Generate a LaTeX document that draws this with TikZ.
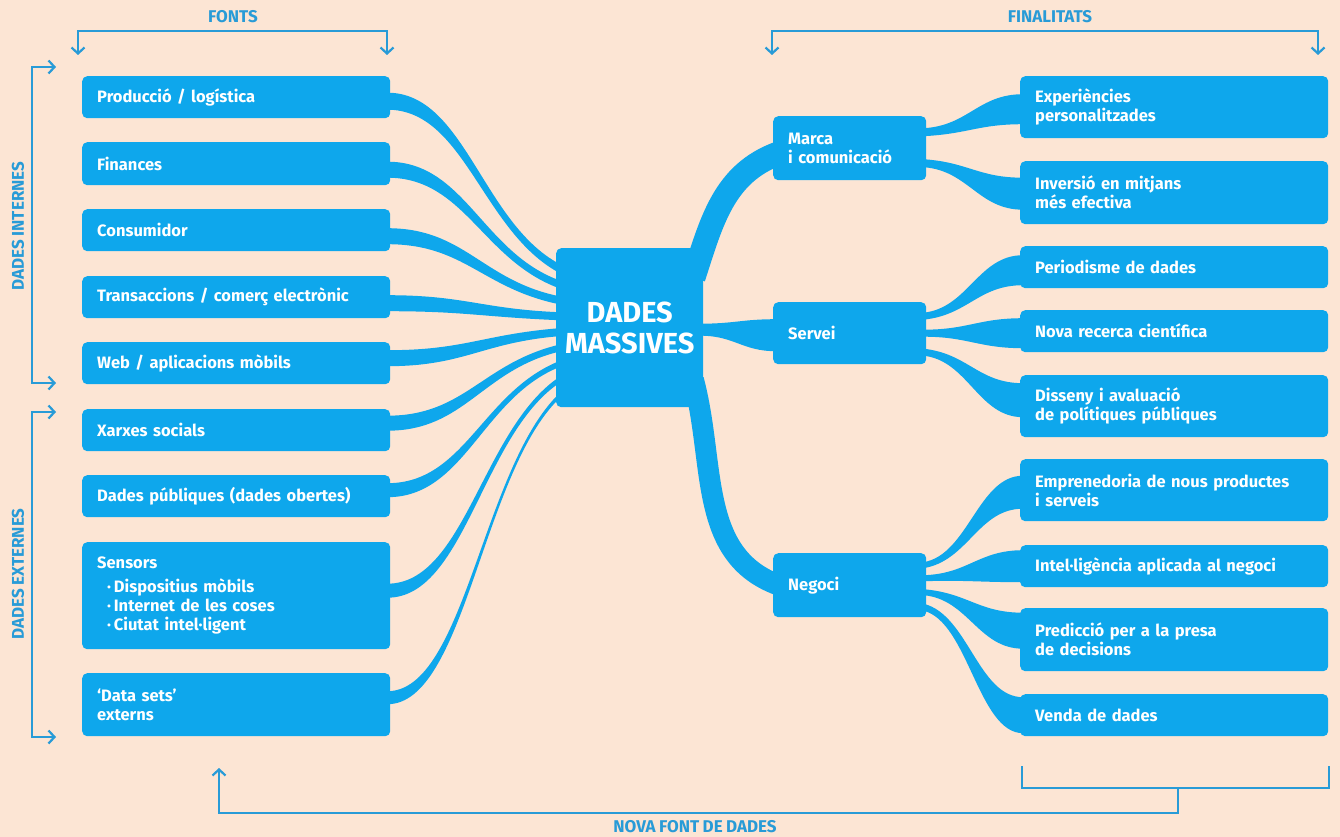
\documentclass[tikz,border=0pt]{standalone}
\usepackage{fontspec}
\setmainfont{Fira Sans}[WordSpace=0.85]
\usetikzlibrary{calc,arrows.meta}

\definecolor{paper}{RGB}{252,229,212}
\definecolor{boxblue}{RGB}{14,167,236}
\definecolor{lineblue}{RGB}{40,155,215}

\pgfdeclarelayer{paperlayer}
\pgfdeclarelayer{linklayer}
\pgfsetlayers{paperlayer,linklayer,main}

\tikzset{
  box/.style={fill=boxblue, rounded corners=5pt, text=white, anchor=north west,
    font=\fontsize{16.5}{19}\selectfont\bfseries, align=left,
    inner xsep=15pt, inner ysep=4pt},
  lbox/.style={box, text width=278pt},
  mbox/.style={box, text width=123pt},
  tag/.style={text=lineblue, font=\fontsize{17}{17}\selectfont\bfseries, inner sep=0pt},
  bracket/.style={draw=lineblue, line width=2.2pt},
}

% tapered band: start point, start width, end point, end width, start slope, end slope
\newcommand\ribbon[6]{%
  \fill[boxblue] let \p1=#1, \p2=#3 in
    (\x1,{\y1+0.5*#2pt})
      .. controls ({\x1+0.45*(\x2-\x1)},{\y1+0.5*#2pt+#5*(\y2-\y1)})
      and ({\x2-0.45*(\x2-\x1)},{\y2+0.5*#4pt-#6*(\y2-\y1)})
      .. (\x2,{\y2+0.5*#4pt})
    -- (\x2,{\y2-0.5*#4pt})
      .. controls ({\x2-0.45*(\x2-\x1)},{\y2-0.5*#4pt-#6*(\y2-\y1)})
      and ({\x1+0.45*(\x2-\x1)},{\y1-0.5*#2pt+#5*(\y2-\y1)})
      .. (\x1,{\y1-0.5*#2pt})
    -- cycle;}

\begin{document}
\begin{tikzpicture}[x=1pt, y=-1pt, >={Straight Barb[length=6pt,width=13pt]}]
  \useasboundingbox (0,0) rectangle (1340,837);
  \begin{pgfonlayer}{paperlayer}
    \fill[paper] (0,0) rectangle (1340,837);
  \end{pgfonlayer}

  % sources
  \node[lbox, minimum height=42pt] (prod) at (82,76) {Producció / logística};
  \node[lbox, minimum height=43pt] (fin) at (82,142) {Finances};
  \node[lbox, minimum height=42pt] (cons) at (82,209) {Consumidor};
  \node[lbox, minimum height=42pt] (trans) at (82,276) {Transaccions / comerç electrònic};
  \node[lbox, minimum height=42pt] (web) at (82,342) {Web / aplicacions mòbils};
  \node[lbox, minimum height=42pt] (xarx) at (82,409) {Xarxes socials};
  \node[lbox, minimum height=42pt] (publ) at (82,475) {Dades públiques (dades obertes)};
  \node[lbox, minimum height=107pt] (sens) at (82,542) {Sensors\\[5pt]
    \hspace*{10pt}·\,Dispositius mòbils\\
    \hspace*{10pt}·\,Internet de les coses\\
    \hspace*{10pt}·\,Ciutat intel·ligent};
  \node[lbox, minimum height=63pt] (dsets) at (82,673) {‘Data sets’\\externs};

  % centre
  \node[box, minimum width=147pt, minimum height=159pt, align=center, text width=,
    inner xsep=0pt, font=\fontsize{29}{31}\selectfont\bfseries] (dm) at (556,248) {DADES\\MASSIVES};

  % uses
  \node[mbox, minimum height=64pt] (marca) at (773,116) {Marca\\i comunicació};
  \node[mbox, minimum height=62pt] (servei) at (773,302) {Servei};
  \node[mbox, minimum height=64pt] (negoci) at (773,553) {Negoci};

  % aims
  \node[lbox, minimum height=62pt] (exp) at (1020,76) {Experiències\\personalitzades};
  \node[lbox, minimum height=63pt] (inv) at (1020,161) {Inversió en mitjans\\més efectiva};
  \node[lbox, minimum height=42pt] (peri) at (1020,246) {Periodisme de dades};
  \node[lbox, minimum height=42pt] (nova) at (1020,310) {Nova recerca científica};
  \node[lbox, minimum height=62pt] (diss) at (1020,375) {Disseny i avaluació\\de polítiques públiques};
  \node[lbox, minimum height=62pt] (empr) at (1020,459) {Emprenedoria de nous productes\\i serveis};
  \node[lbox, minimum height=42pt] (intel) at (1020,545) {Intel·ligència aplicada al negoci};
  \node[lbox, minimum height=63pt] (pred) at (1020,608) {Predicció per a la presa\\de decisions};
  \node[lbox, minimum height=42pt] (venda) at (1020,694) {Venda de dades};

  % labels
  \node[tag] (fontslab) at (233,17) {FONTS};
  \node[tag] (finlab) at (1050,17) {FINALITATS};
  \node[tag, rotate=90] (intlab) at (18,226) {DADES INTERNES};
  \node[tag, rotate=90] (extlab) at (18,574) {DADES EXTERNES};
  \node[tag] (novalab) at (695,827) {NOVA FONT DE DADES};

  % bands
  \begin{pgfonlayer}{linklayer}
    \ribbon{($(prod.east)+(-3,4)$)}{17}{($(dm.west)+(3,-59.5)$)}{9}{0}{0.25}
    \ribbon{($(fin.east)+(-3,6)$)}{16}{($(dm.west)+(3,-43.5)$)}{8}{0}{0.25}
    \ribbon{($(cons.east)+(-3,6)$)}{16}{($(dm.west)+(3,-27.5)$)}{8}{0}{0.25}
    \ribbon{($(trans.east)+(-3,6)$)}{16}{($(dm.west)+(3,-11.5)$)}{8}{0}{0.25}
    \ribbon{($(web.east)+(-3,-5)$)}{16}{($(dm.west)+(3,4.5)$)}{8}{0}{0.25}
    \ribbon{($(xarx.east)+(-3,-7)$)}{15}{($(dm.west)+(3,20.5)$)}{7}{0}{0.25}
    \ribbon{($(publ.east)+(-3,-6)$)}{14}{($(dm.west)+(3,36.5)$)}{6}{0}{0.25}
    \ribbon{($(sens.east)+(-3,-5)$)}{14}{($(dm.west)+(3,52.5)$)}{6}{0}{0.25}
    \ribbon{($(dsets.east)+(-3,-7)$)}{13}{($(dm.west)+(3,68.5)$)}{5}{0}{0.25}

    \draw[boxblue, line width=24pt] ($(dm.east)+(-10,-50)$) to[out=72,in=200] ($(marca.west)+(6,5)$);
    \ribbon{($(dm.east)+(-3,2)$)}{12}{($(servei.west)+(3,2)$)}{32}{0}{0}
    \draw[boxblue, line width=21pt] ($(dm.east)+(-10,52)$) to[out=-75,in=160] ($(negoci.west)+(6,0)$);

    \ribbon{($(marca.east)+(-3,-16)$)}{8}{($(exp.west)+(3,2)$)}{30}{0.1}{0}
    \ribbon{($(marca.east)+(-3,15)$)}{8}{($(inv.west)+(3,1)$)}{32}{0.1}{0}
    \ribbon{($(servei.east)+(-3,-17)$)}{7}{($(peri.west)+(3,3)$)}{30}{0.1}{0}
    \ribbon{($(servei.east)+(-3,0)$)}{7}{($(nova.west)+(3,2)$)}{30}{0.1}{0}
    \ribbon{($(servei.east)+(-3,19)$)}{7}{($(diss.west)+(3,-6)$)}{34}{0.1}{0}
    \ribbon{($(negoci.east)+(-3,-20)$)}{6}{($(empr.west)+(3,2)$)}{33}{0.1}{0}
    \ribbon{($(negoci.east)+(-3,-7)$)}{6}{($(intel.west)+(3,0)$)}{32}{0.1}{0}
    \ribbon{($(negoci.east)+(-3,7)$)}{6}{($(pred.west)+(3,-9)$)}{36}{0.1}{0}
    \ribbon{($(negoci.east)+(-3,22)$)}{7}{($(venda.west)+(3,0)$)}{36}{0.1}{0}
  \end{pgfonlayer}

  % brackets
  \coordinate (fontsA) at (78,55);
  \coordinate (fontsB) at (387,55);
  \coordinate (finA) at (772,55);
  \coordinate (finB) at (1318,55);
  \coordinate (intA) at (56,67);
  \coordinate (intB) at (56,383);
  \coordinate (extA) at (56,412);
  \coordinate (extB) at (56,737);
  \coordinate (botA) at (1022,766);
  \coordinate (botB) at (1329,766);
  \coordinate (botM) at (1178,788);
  \coordinate (back) at (219,768);
  \draw[bracket, <->] (fontsA) -- ++(0,-24) -| (fontsB);
  \draw[bracket, <->] (finA) -- ++(0,-24) -| (finB);
  \draw[bracket, <->] (intA) -- ++(-24,0) |- (intB);
  \draw[bracket, <->] (extA) -- ++(-24,0) |- (extB);
  \draw[bracket] (botA) -- ++(0,22) -| (botB);
  \draw[bracket, ->] (botM) -- ++(0,25) -| (back);
\end{tikzpicture}
\end{document}
